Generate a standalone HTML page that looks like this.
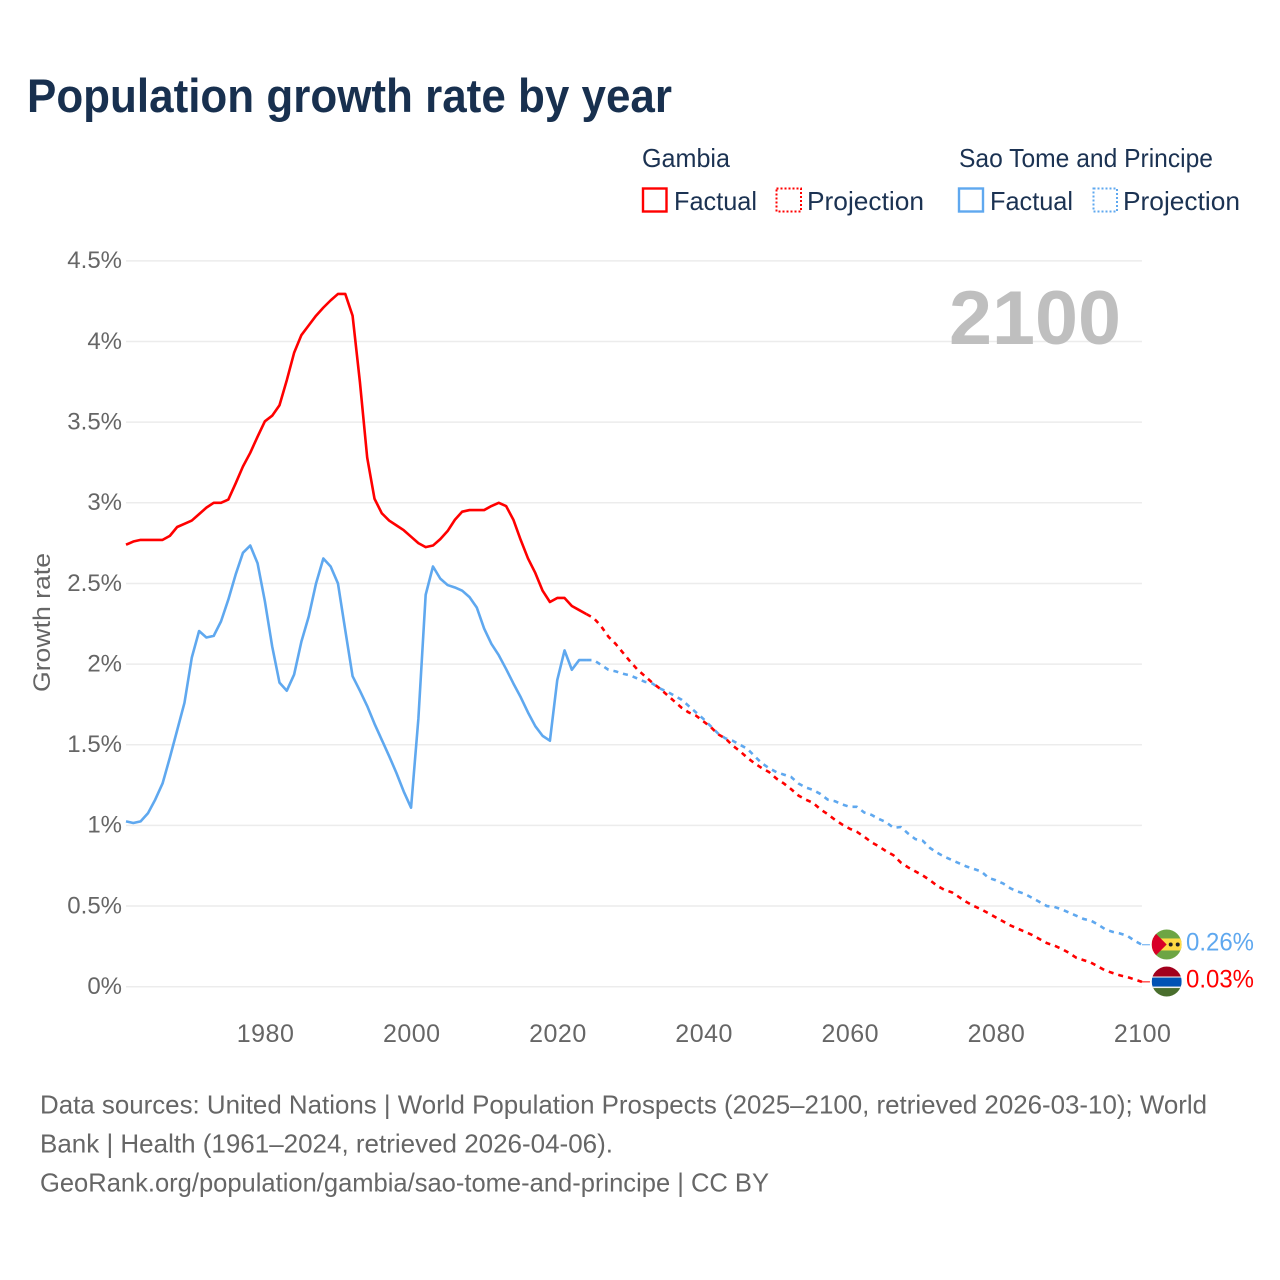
<!DOCTYPE html>
<html lang="en">
<head>
<meta charset="utf-8">
<title>Population growth rate by year</title>
<style>
html,body{margin:0;padding:0;background:#fff;}
svg{display:block;font-family:"Liberation Sans",sans-serif;}
</style>
</head>
<body>
<svg id="chart" width="1280" height="1280" viewBox="0 0 1280 1280" xmlns="http://www.w3.org/2000/svg">
  <rect x="0" y="0" width="1280" height="1280" fill="#fff"/>
  <text x="27" y="112" font-size="47" font-weight="bold" fill="#18304f" textLength="645" lengthAdjust="spacingAndGlyphs">Population growth rate by year</text>

  <g font-size="26" fill="#1b3252">
    <text x="642" y="167" textLength="88" lengthAdjust="spacingAndGlyphs">Gambia</text>
    <text x="959" y="167" textLength="254" lengthAdjust="spacingAndGlyphs">Sao Tome and Principe</text>
    <rect x="643" y="188.5" width="23.5" height="23" fill="none" stroke="#ff0000" stroke-width="2.4"/>
    <text x="674" y="210" textLength="83" lengthAdjust="spacingAndGlyphs">Factual</text>
    <rect x="776.5" y="188.5" width="24.5" height="23" fill="none" stroke="#ff0000" stroke-width="2" stroke-dasharray="2 2"/>
    <text x="807" y="210" textLength="117" lengthAdjust="spacingAndGlyphs">Projection</text>
    <rect x="959" y="188.5" width="24" height="23" fill="none" stroke="#5fa8ef" stroke-width="2.4"/>
    <text x="990" y="210" textLength="83" lengthAdjust="spacingAndGlyphs">Factual</text>
    <rect x="1093.5" y="188.5" width="23.5" height="23" fill="none" stroke="#5fa8ef" stroke-width="2" stroke-dasharray="2 2"/>
    <text x="1123" y="210" textLength="117" lengthAdjust="spacingAndGlyphs">Projection</text>
  </g>

  <g id="grid"></g>
  <g id="yticks" font-size="24" fill="#666" text-anchor="end"></g>
  <g id="xticks" font-size="25" fill="#666" text-anchor="middle" letter-spacing="0.5"></g>
  <text transform="translate(50,692) rotate(-90)" font-size="24" fill="#666" textLength="139" lengthAdjust="spacingAndGlyphs">Growth rate</text>

  <text x="949" y="344" font-size="76" font-weight="bold" fill="#bfbfbf" textLength="172" lengthAdjust="spacingAndGlyphs">2100</text>

  <g id="lines"></g>

  <defs>
    <clipPath id="flagClipST"><circle cx="0" cy="0" r="15"/></clipPath>
    <clipPath id="flagClipGM"><circle cx="0" cy="0" r="15"/></clipPath>
  </defs>
  <g id="flagST" clip-path="url(#flagClipST)">
    <rect x="-15" y="-15" width="30" height="30" fill="#6da544"/>
    <rect x="-15" y="-6" width="30" height="12" fill="#ffda44"/>
    <polygon points="-15,-15 0,0 -15,15" fill="#d80027"/>
    <circle cx="4" cy="0" r="2" fill="#222"/>
    <circle cx="11" cy="0" r="2" fill="#222"/>
  </g>
  <g id="flagGM" clip-path="url(#flagClipGM)">
    <rect x="-15" y="-15" width="30" height="10" fill="#a2001d"/>
    <rect x="-15" y="-5" width="30" height="10" fill="#f0f0f0"/>
    <rect x="-15" y="-4" width="30" height="9" fill="#0052b4"/>
    <rect x="-15" y="5" width="30" height="10" fill="#496e2d"/>
    <rect x="-15" y="5" width="30" height="1.5" fill="#f0f0f0"/>
  </g>
  <text id="labelST" x="1186" font-size="25" fill="#5fa8ef" textLength="68" lengthAdjust="spacingAndGlyphs">0.26%</text>
  <text id="labelGM" x="1186" font-size="25" fill="#ff0000" textLength="68" lengthAdjust="spacingAndGlyphs">0.03%</text>

  <g font-size="26" fill="#666">
    <text x="40" y="1113.5" textLength="1167" lengthAdjust="spacingAndGlyphs">Data sources: United Nations | World Population Prospects (2025–2100, retrieved 2026-03-10); World</text>
    <text x="40" y="1152.5" textLength="573" lengthAdjust="spacingAndGlyphs">Bank | Health (1961–2024, retrieved 2026-04-06).</text>
    <text x="40" y="1191.5" textLength="729" lengthAdjust="spacingAndGlyphs">GeoRank.org/population/gambia/sao-tome-and-principe | CC BY</text>
  </g>
</svg>
<script>
const yTickValues = [0, 0.5, 1, 1.5, 2, 2.5, 3, 3.5, 4, 4.5];
const yTickLabels = ["0%", "0.5%", "1%", "1.5%", "2%", "2.5%", "3%", "3.5%", "4%", "4.5%"];
const xTickYears = [1980, 2000, 2020, 2040, 2060, 2080, 2100];

const factualStartYear = 1961;
const projectionStartYear = 2024;

const gambiaFactual = [2.74,2.76,2.77,2.77,2.77,2.77,2.795,2.85,2.87,2.89,
  2.93,2.97,3.0,3.0,3.02,3.12,3.225,3.31,3.41,3.505,
  3.54,3.605,3.76,3.93,4.04,4.10,4.16,4.21,4.255,4.295,
  4.295,4.16,3.75,3.28,3.025,2.935,2.89,2.86,2.83,2.79,
  2.75,2.725,2.735,2.775,2.825,2.895,2.945,2.955,2.955,2.955,
  2.98,3.0,2.98,2.895,2.77,2.655,2.565,2.455,2.385,2.41,
  2.41,2.36,2.335,2.31];

const gambiaProjection = [2.31,2.285,2.235,2.17,2.125,2.07,2.015,1.965,1.925,1.885,1.85,1.81,1.77,1.73,1.70,1.68,
  1.645,1.61,1.565,1.54,1.495,1.46,1.42,1.385,1.355,1.33,
  1.29,1.26,1.225,1.185,1.16,1.14,1.10,1.07,1.035,1.005,
  0.98,0.96,0.93,0.895,0.87,0.84,0.815,0.77,0.74,0.715,
  0.69,0.66,0.625,0.60,0.585,0.555,0.525,0.50,0.48,0.455,
  0.43,0.405,0.38,0.36,0.34,0.32,0.295,0.27,0.255,0.235,
  0.21,0.18,0.165,0.15,0.125,0.10,0.085,0.07,0.06,0.045,0.03];

const saoTomeFactual = [1.025,1.015,1.025,1.075,1.16,1.26,1.42,1.59,1.76,2.04,
  2.205,2.165,2.175,2.265,2.40,2.555,2.69,2.735,2.625,2.39,
  2.11,1.885,1.835,1.935,2.14,2.295,2.50,2.655,2.605,2.50,
  2.21,1.925,1.835,1.74,1.63,1.53,1.43,1.325,1.21,1.11,
  1.66,2.43,2.605,2.53,2.49,2.475,2.455,2.415,2.35,2.22,
  2.125,2.055,1.97,1.88,1.795,1.70,1.615,1.555,1.525,1.90,
  2.085,1.965,2.025,2.025];

const saoTomeProjection = [2.025,2.025,1.995,1.965,1.955,1.94,1.93,1.91,1.89,1.88,1.85,1.83,1.805,1.78,1.74,1.70,
  1.66,1.615,1.57,1.54,1.525,1.50,1.475,1.43,1.385,1.355,
  1.33,1.315,1.30,1.26,1.235,1.22,1.195,1.16,1.15,1.13,
  1.115,1.115,1.08,1.065,1.04,1.02,0.985,0.99,0.95,0.915,
  0.905,0.86,0.83,0.805,0.785,0.765,0.745,0.73,0.715,0.675,
  0.66,0.64,0.61,0.59,0.575,0.55,0.525,0.50,0.495,0.48,
  0.46,0.44,0.42,0.41,0.385,0.355,0.34,0.33,0.315,0.285,0.26];

const NS = "http://www.w3.org/2000/svg";
function xScale(year) { return 126 + (year - 1961) * 7.309; }
function yScale(value) { return 986.7 - value * 161.3; }

const gridGroup = document.getElementById("grid");
const yTickGroup = document.getElementById("yticks");
const xTickGroup = document.getElementById("xticks");
const lineGroup = document.getElementById("lines");

yTickValues.forEach(function (value, i) {
  const line = document.createElementNS(NS, "line");
  line.setAttribute("x1", xScale(1961));
  line.setAttribute("x2", xScale(2100));
  line.setAttribute("y1", yScale(value));
  line.setAttribute("y2", yScale(value));
  line.setAttribute("stroke", "#ececec");
  line.setAttribute("stroke-width", "1.5");
  
  
  gridGroup.appendChild(line);

  const label = document.createElementNS(NS, "text");
  label.setAttribute("x", 122);
  label.setAttribute("y", yScale(value) + 7.3);
  label.textContent = yTickLabels[i];
  
  
  yTickGroup.appendChild(label);
});

xTickYears.forEach(function (year) {
  const label = document.createElementNS(NS, "text");
  label.setAttribute("x", xScale(year) + 0.7);
  label.setAttribute("y", 1042);
  label.textContent = String(year);
  
  
  xTickGroup.appendChild(label);
});

function drawSeries(values, startYear, color, dashed, name) {
  const path = document.createElementNS(NS, "path");
  const d = values.map(function (value, i) {
    return (i === 0 ? "M" : "L") + xScale(startYear + i).toFixed(2) + " " + yScale(value).toFixed(2);
  }).join(" ");
  path.setAttribute("d", d);
  path.setAttribute("fill", "none");
  path.setAttribute("stroke", color);
  path.setAttribute("stroke-width", "2.6");
  path.setAttribute("stroke-linejoin", "round");
  if (dashed) {
    path.setAttribute("stroke-dasharray", "5 5");
  }
  
  
  lineGroup.appendChild(path);
}

drawSeries(saoTomeFactual, factualStartYear, "#5fa8ef", false, "sao-tome-factual-line");
drawSeries(saoTomeProjection, projectionStartYear, "#5fa8ef", true, "sao-tome-projection-line");
drawSeries(gambiaFactual, factualStartYear, "#ff0000", false, "gambia-factual-line");
drawSeries(gambiaProjection, projectionStartYear, "#ff0000", true, "gambia-projection-line");

function placeEnd(values, flagId, labelId, color, name) {
  const last = values[values.length - 1];
  const yPos = yScale(last);
  const connector = document.createElementNS(NS, "line");
  connector.setAttribute("x1", xScale(2100));
  connector.setAttribute("x2", xScale(2100) + 8);
  connector.setAttribute("y1", yPos);
  connector.setAttribute("y2", yPos);
  connector.setAttribute("stroke", color);
  connector.setAttribute("stroke-width", "1");
  
  
  lineGroup.appendChild(connector);
  document.getElementById(flagId).setAttribute("transform", "translate(1166.7," + (yPos - 0.3) + ")");
  document.getElementById(labelId).setAttribute("y", yPos + 5.8);
}

placeEnd(saoTomeProjection, "flagST", "labelST", "#5fa8ef", "sao-tome-connector");
placeEnd(gambiaProjection, "flagGM", "labelGM", "#ff0000", "gambia-connector");
</script>
</body>
</html>
